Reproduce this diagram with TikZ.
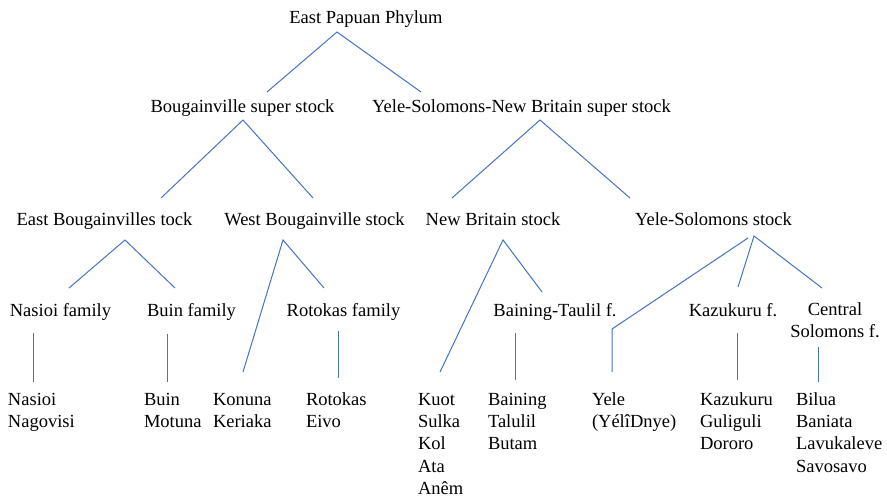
\documentclass[tikz,border=0pt]{standalone}
\usepackage{fontspec}
\setmainfont{Liberation Serif}
\begin{document}
\begin{tikzpicture}[x=1pt,y=-1pt,
  lbl/.style={inner sep=0pt,outer sep=0pt,font=\fontsize{18.5}{22.4}\selectfont},
  grp/.style={lbl,anchor=base},
  leaf/.style={lbl,anchor=base west,align=left},
  branch/.style={draw=linkblue,line width=1pt}]
\definecolor{linkblue}{HTML}{4472C4}
\useasboundingbox (0,0) rectangle (887,498);

% ---- labels (multi-line nodes are placed by the baseline of their last line) ----
\node[grp] (phylum) at (366,23) {East Papuan Phylum};
\node[grp] (bsuper) at (242.5,112) {Bougainville super stock};
\node[grp] (ysuper) at (521.5,112) {Yele-Solomons-New Britain super stock};
\node[grp] (eb) at (104.5,225) {East Bougainvilles tock};
\node[grp] (wb) at (314.5,225) {West Bougainville stock};
\node[grp] (nb) at (493,225) {New Britain stock};
\node[grp] (ys) at (713.5,225) {Yele-Solomons stock};
\node[grp] (nasfam) at (60.5,316) {Nasioi family};
\node[grp] (buinfam) at (191.5,316) {Buin family};
\node[grp] (rotfam) at (343.5,316) {Rotokas family};
\node[grp] (bainfam) at (555,316) {Baining-Taulil f.};
\node[grp] (kazfam) at (733,316) {Kazukuru f.};
\node[grp,align=center] (centfam) at (835,337.4) {Central\\Solomons f.};

\node[leaf] (nasioi) at (8,427.4) {Nasioi\\Nagovisi};
\node[leaf] (buin) at (144,427.4) {Buin\\Motuna};
\node[leaf] (konuna) at (213,427.4) {Konuna\\Keriaka};
\node[leaf] (rotokas) at (306,427.4) {Rotokas\\Eivo};
\node[leaf] (kuot) at (418,494.6) {Kuot\\Sulka\\Kol\\Ata\\Anêm};
\node[leaf] (baining) at (488,449.8) {Baining\\Talulil\\Butam};
\node[leaf] (yele) at (592,427.4) {Yele\\(YélîDnye)};
\node[leaf] (kazukuru) at (700,449.8) {Kazukuru\\Guliguli\\Dororo};
\node[leaf] (bilua) at (796,472.2) {Bilua\\Baniata\\Lavukaleve\\Savosavo};

% ---- branch end points ----
\coordinate (phylum-a) at (337,32);
\coordinate (bsuper-t) at (267,92);
\coordinate (ysuper-t) at (421,92);
\coordinate (bsuper-a) at (243,120);
\coordinate (eb-t) at (161,198);
\coordinate (wb-t) at (313,198);
\coordinate (ysuper-a) at (540,120);
\coordinate (nb-t) at (452,198);
\coordinate (ys-t) at (630,198);
\coordinate (eb-a) at (125,240);
\coordinate (nasfam-t) at (69,288);
\coordinate (buinfam-t) at (175,288);
\coordinate (wb-a) at (283,240);
\coordinate (rotfam-t) at (324,288);
\coordinate (konuna-t) at (243,372);
\coordinate (nb-a) at (503,240);
\coordinate (bainfam-t) at (542,292);
\coordinate (kuot-t) at (440,372);
\coordinate (ys-a) at (754,236);
\coordinate (ys-al) at (748,238);
\coordinate (yele-k) at (612,329);
\coordinate (yele-t) at (612,372);
\coordinate (kazfam-t) at (738,287);
\coordinate (centfam-t) at (822,288);
\coordinate (nasfam-b) at (33,333);
\coordinate (nasioi-t) at (33,382);
\coordinate (buinfam-b) at (167,334);
\coordinate (buin-t) at (167,382);
\coordinate (rotfam-b) at (338,331);
\coordinate (rotokas-t) at (338,378);
\coordinate (bainfam-b) at (515,333);
\coordinate (baining-t) at (515,380);
\coordinate (kazfam-b) at (737,333);
\coordinate (kazukuru-t) at (737,380);
\coordinate (centfam-b) at (818,347);
\coordinate (bilua-t) at (818,382);

% ---- branches ----
\draw[branch] (bsuper-t) -- (phylum-a) -- (ysuper-t);
\draw[branch] (eb-t) -- (bsuper-a) -- (wb-t);
\draw[branch] (nb-t) -- (ysuper-a) -- (ys-t);
\draw[branch] (nasfam-t) -- (eb-a) -- (buinfam-t);
\draw[branch] (konuna-t) -- (wb-a) -- (rotfam-t);
\draw[branch] (kuot-t) -- (nb-a) -- (bainfam-t);
\draw[branch] (ys-al) -- (yele-k) -- (yele-t);
\draw[branch] (kazfam-t) -- (ys-a) -- (centfam-t);
\draw[branch] (nasfam-b) -- (nasioi-t);
\draw[branch] (buinfam-b) -- (buin-t);
\draw[branch] (rotfam-b) -- (rotokas-t);
\draw[branch] (bainfam-b) -- (baining-t);
\draw[branch] (kazfam-b) -- (kazukuru-t);
\draw[branch] (centfam-b) -- (bilua-t);
\end{tikzpicture}
\end{document}
